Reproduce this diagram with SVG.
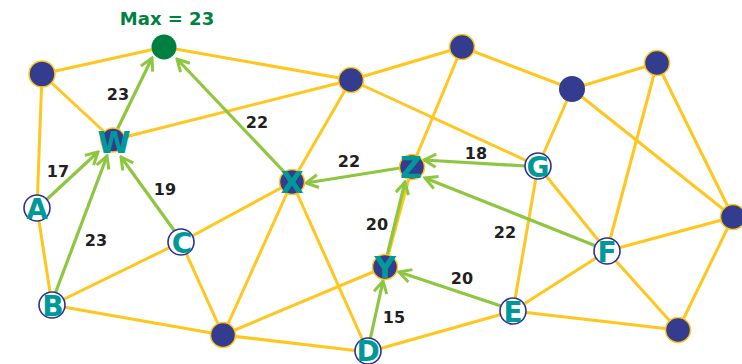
<svg xmlns="http://www.w3.org/2000/svg" width="742" height="364" viewBox="0 0 742 364">
<style>
.e{stroke:#ffc61e;stroke-width:3;fill:none}
.a{stroke:#8dc63f;stroke-width:3.2;fill:none;marker-end:url(#ah)}
.dk{fill:#333c8e;stroke:#ffc61e;stroke-width:1.5}
.wh{fill:#fff;stroke:#2e3192;stroke-width:1.6}
.lt{font-family:"DejaVu Sans",Verdana,sans-serif;font-weight:bold;font-size:30px;fill:#00999a;text-anchor:middle}
.lw{font-family:"DejaVu Sans",Verdana,sans-serif;font-weight:bold;font-size:28px;fill:#00999a;text-anchor:middle}
.w{font-family:"DejaVu Sans",Verdana,sans-serif;font-weight:bold;font-size:16px;fill:#231f20;text-anchor:middle}
</style>
<defs>
<marker id="ah" viewBox="0 0 16 16" refX="14" refY="8" markerWidth="16" markerHeight="16" markerUnits="userSpaceOnUse" orient="auto">
<path d="M2,1.5 L14,8 L2,14.5" fill="none" stroke="#8dc63f" stroke-width="3"/>
</marker>
</defs>
<g id="connectors">
<line class="e" x1="42" y1="74" x2="164" y2="47"/>
<line class="e" x1="42" y1="74" x2="113" y2="140"/>
<line class="e" x1="42" y1="74" x2="37" y2="208"/>
<line class="e" x1="37" y1="208" x2="52" y2="305"/>
<line class="e" x1="52" y1="305" x2="181" y2="242"/>
<line class="e" x1="52" y1="305" x2="223" y2="335"/>
<line class="e" x1="181" y1="242" x2="223" y2="335"/>
<line class="e" x1="181" y1="242" x2="292" y2="182"/>
<line class="e" x1="113" y1="140" x2="351" y2="80"/>
<line class="e" x1="164" y1="47" x2="351" y2="80"/>
<line class="e" x1="351" y1="80" x2="292" y2="182"/>
<line class="e" x1="351" y1="80" x2="462" y2="47"/>
<line class="e" x1="351" y1="80" x2="538" y2="166"/>
<line class="e" x1="462" y1="47" x2="412" y2="167"/>
<line class="e" x1="462" y1="47" x2="572" y2="89"/>
<line class="e" x1="572" y1="89" x2="657" y2="63"/>
<line class="e" x1="572" y1="89" x2="538" y2="166"/>
<line class="e" x1="572" y1="89" x2="733" y2="217"/>
<line class="e" x1="657" y1="63" x2="607" y2="251"/>
<line class="e" x1="657" y1="63" x2="733" y2="217"/>
<line class="e" x1="292" y1="182" x2="223" y2="335"/>
<line class="e" x1="292" y1="182" x2="368" y2="352"/>
<line class="e" x1="223" y1="335" x2="385" y2="267"/>
<line class="e" x1="223" y1="335" x2="368" y2="352"/>
<line class="e" x1="368" y1="352" x2="513" y2="311"/>
<line class="e" x1="412" y1="167" x2="385" y2="267"/>
<line class="e" x1="538" y1="166" x2="513" y2="311"/>
<line class="e" x1="538" y1="166" x2="607" y2="251"/>
<line class="e" x1="607" y1="251" x2="513" y2="311"/>
<line class="e" x1="607" y1="251" x2="733" y2="217"/>
<line class="e" x1="607" y1="251" x2="678" y2="330"/>
<line class="e" x1="513" y1="311" x2="678" y2="330"/>
<line class="e" x1="733" y1="217" x2="678" y2="330"/>
<line class="a" x1="117" y1="130" x2="152" y2="58"/>
<line class="a" x1="288" y1="176" x2="177" y2="59"/>
<line class="a" x1="44" y1="202" x2="98" y2="152"/>
<line class="a" x1="55" y1="294" x2="107" y2="156"/>
<line class="a" x1="176" y1="233" x2="121" y2="157"/>
<line class="a" x1="400" y1="168" x2="306" y2="183"/>
<line class="a" x1="526" y1="166" x2="424" y2="160"/>
<line class="a" x1="596" y1="246" x2="425" y2="178"/>
<line class="a" x1="387" y1="256" x2="405" y2="182"/>
<line class="a" x1="370" y1="340" x2="383" y2="281"/>
<line class="a" x1="501" y1="306" x2="399" y2="272"/>
</g>
<g id="max"><circle cx="164" cy="47" r="12.5" fill="#008040"/><text x="167" y="25" font-family="DejaVu Sans,Verdana,sans-serif" font-weight="bold" font-size="18" fill="#008040" text-anchor="middle">Max = 23</text></g>
<g id="n-tl"><circle class="dk" cx="42" cy="74" r="13"/></g>
<g id="n1"><circle class="dk" cx="351" cy="80" r="12.5"/></g>
<g id="n2"><circle class="dk" cx="462" cy="47" r="12.5"/></g>
<g id="n3"><circle cx="572" cy="89" r="13" fill="#333c8e"/></g>
<g id="n4"><circle class="dk" cx="657" cy="63" r="12.5"/></g>
<g id="n-r"><circle class="dk" cx="733" cy="217" r="12.5"/></g>
<g id="n-br"><circle class="dk" cx="678" cy="330" r="12.5"/></g>
<g id="n-bd"><circle class="dk" cx="223" cy="335" r="12.5"/></g>
<g id="W"><circle class="dk" cx="113" cy="140" r="12"/><text class="lt" x="114" y="153">W</text></g>
<g id="X"><circle class="dk" cx="292" cy="182" r="12.5"/><text class="lt" x="292" y="193">X</text></g>
<g id="Z"><circle class="dk" cx="412" cy="167" r="12.5"/><text class="lt" x="411" y="178">Z</text></g>
<g id="Y"><circle class="dk" cx="385" cy="267" r="12.5"/><text class="lt" x="385" y="278">Y</text></g>
<g id="A"><circle class="wh" cx="37" cy="208" r="13"/><text class="lw" x="37" y="219">A</text></g>
<g id="B"><circle class="wh" cx="52" cy="305" r="13"/><text class="lw" x="53" y="316">B</text></g>
<g id="C"><circle class="wh" cx="181" cy="242" r="13"/><text class="lw" x="182" y="253">C</text></g>
<g id="D"><circle class="wh" cx="368" cy="351" r="13"/><text class="lw" x="368" y="361">D</text></g>
<g id="E"><circle class="wh" cx="513" cy="311" r="13"/><text class="lw" x="513" y="322">E</text></g>
<g id="F"><circle class="wh" cx="607" cy="251" r="13"/><text class="lw" x="607" y="262">F</text></g>
<g id="G"><circle class="wh" cx="538" cy="166" r="13"/><text class="lw" x="538" y="177">G</text></g>
<g id="weights">
<text class="w" x="118" y="100">23</text>
<text class="w" x="58" y="177">17</text>
<text class="w" x="165" y="195">19</text>
<text class="w" x="96" y="246">23</text>
<text class="w" x="257" y="128">22</text>
<text class="w" x="349" y="167">22</text>
<text class="w" x="476" y="159">18</text>
<text class="w" x="377" y="230">20</text>
<text class="w" x="505" y="238">22</text>
<text class="w" x="462" y="284">20</text>
<text class="w" x="394" y="323">15</text>
</g>
</svg>
